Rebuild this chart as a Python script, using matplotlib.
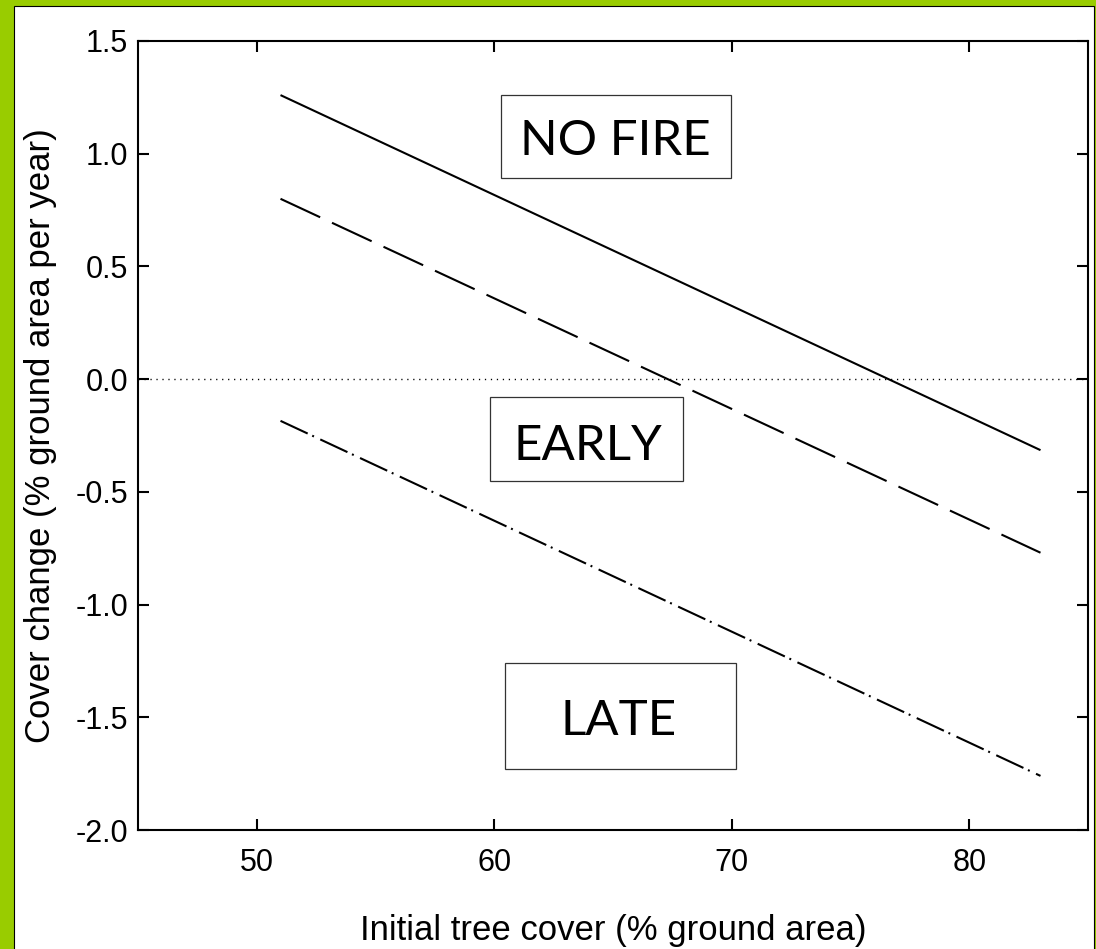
import matplotlib
matplotlib.use("Agg")
import matplotlib.pyplot as plt
from matplotlib.patches import Rectangle

# ---- data ----
x_start_end = [51, 83]
no_fire = [1.26, -0.315]
early = [0.80, -0.77]
late = [-0.185, -1.76]
x_ticks = [50, 60, 70, 80]
y_ticks = [-2.0, -1.5, -1.0, -0.5, 0.0, 0.5, 1.0, 1.5]
y_tick_labels = ["-2.0", "-1.5", "-1.0", "-0.5", "0.0", "0.5", "1.0", "1.5"]
labels = ["NO FIRE", "EARLY", "LATE"]

plt.rcParams["font.family"] = ["Liberation Sans", "DejaVu Sans"]
plt.rcParams["lines.scale_dashes"] = False

W, H = 1096, 949
fig = plt.figure(figsize=(W / 100, H / 100), dpi=100)
fig.patch.set_facecolor("#99CC00")
fig.patches.append(Rectangle((14 / W, -0.02), (1094 - 14) / W, 1 - 6 / H + 0.02,
                             transform=fig.transFigure, facecolor="white",
                             edgecolor="black", linewidth=0.8, zorder=-10))

ax = fig.add_axes([138 / W, 1 - 830 / H, (1088 - 138) / W, (830 - 41) / H])
ax.set_facecolor("white")

ax.plot(x_start_end, no_fire, color="black", lw=1.5, solid_capstyle="butt")
ax.plot(x_start_end, early, color="black", lw=1.5, dashes=(31.5, 9.4))
ax.plot(x_start_end, late, color="black", lw=1.5, dashes=(21.6, 3.6, 1.4, 5.0))
ax.axhline(0, color="black", lw=1.0, dashes=(0.9, 3.4))

ax.set_xlim(45, 85)
ax.set_ylim(-2.0, 1.5)
ax.set_xticks(x_ticks)
ax.set_yticks(y_ticks)
ax.set_yticklabels(y_tick_labels)
ax.tick_params(direction="in", length=8, width=1.5, top=True, right=True,
               labelsize=22, colors="black")
ax.tick_params(axis="x", pad=13)
ax.tick_params(axis="y", pad=7)
for s in ax.spines.values():
    s.set_linewidth(1.5)

ax.set_xlabel("Initial tree cover (% ground area)", fontsize=25, labelpad=26)
ax.set_ylabel("Cover change (% ground area per year)", fontsize=25, labelpad=13)

# text boxes (axes-fraction layout)
boxes = [(0.382, 0.826, 0.242, 0.105), (0.3705, 0.4423, 0.203, 0.1065),
         (0.3863, 0.0773, 0.243, 0.1343)]
text_pos = [(0.503, 0.8555), (0.4737, 0.469), (0.5058, 0.1204)]
for lab, (bx, by, bw, bh), (tx, ty) in zip(labels, boxes, text_pos):
    ax.add_patch(Rectangle((bx, by), bw, bh, transform=ax.transAxes,
                           facecolor="white", edgecolor="#333333", lw=0.9, zorder=3))
    ax.text(tx, ty, lab, transform=ax.transAxes, ha="center", va="baseline",
            fontsize=35.5, family=["Lato", "DejaVu Sans"], zorder=4)

fig.savefig("out.png", dpi=100, facecolor=fig.get_facecolor())
